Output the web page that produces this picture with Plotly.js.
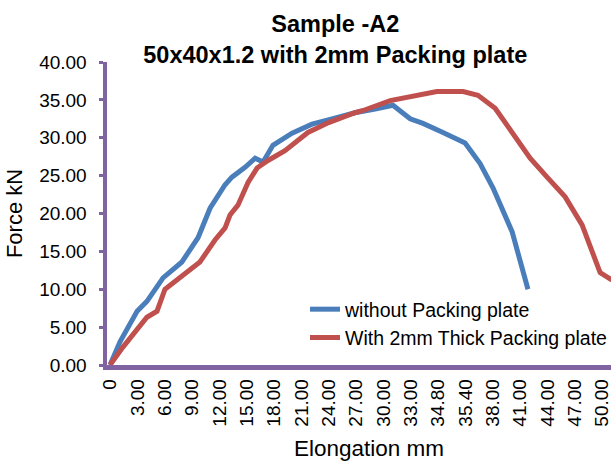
<!DOCTYPE html>
<html><head><meta charset="utf-8">
<script src="https://cdn.plot.ly/plotly-3.0.1.min.js"></script>
<style>
html,body{margin:0;padding:0;overflow:hidden;background:#fff;width:611px;height:463px}
#chart{width:660px;height:463px}
</style>
</head><body><div id="chart"></div>
<script>
// Category labels of the elongation axis (mm), one per labelled category
const tickLabels = ["0","3.00","6.00","9.00","12.00","15.00","18.00","21.00","24.00","27.00",
  "30.00","33.00","34.80","35.40","38.00","41.00","44.00","47.00","50.00"];
const tickPositions = tickLabels.map((_, i) => i);

// Series 1: without Packing plate (position along category axis, force kN)
const withoutPos   = [0, 0.37, 0.99, 1.35, 1.94, 2.63, 3.22, 3.66, 4.21, 4.46, 4.94, 5.31, 5.60, 5.96, 6.66, 7.39, 8.12, 8.96, 9.70, 10.35, 10.98, 11.45, 12.18, 12.99, 13.54, 14.01, 14.71, 15.29];
const withoutForce = [0, 3.1, 7.1, 8.4, 11.5, 13.6, 16.8, 20.7, 23.8, 24.8, 26.1, 27.3, 26.8, 29.0, 30.6, 31.8, 32.5, 33.3, 33.8, 34.3, 32.5, 31.9, 30.7, 29.3, 26.6, 23.4, 17.6, 10.0];

// Series 2: With 2mm Thick Packing plate
const withPos   = [0, 0.48, 1.35, 1.72, 2.01, 2.67, 3.29, 3.84, 4.21, 4.39, 4.68, 5.05, 5.38, 5.78, 6.40, 7.24, 8.00, 8.96, 9.26, 10.25, 11.23, 11.96, 12.92, 13.46, 14.09, 14.75, 15.37, 15.99, 16.65, 17.27, 17.93, 18.33, 18.70];
const withForce = [0, 2.4, 6.3, 7.1, 10.0, 11.9, 13.6, 16.5, 18.1, 19.8, 21.1, 24.1, 26.0, 27.0, 28.3, 30.7, 32.0, 33.3, 33.6, 34.9, 35.6, 36.1, 36.1, 35.6, 33.9, 30.6, 27.3, 24.8, 22.2, 18.5, 12.2, 11.3, 10.8];

const seriesNames = ["without Packing plate", "With 2mm Thick Packing plate"];
const FONT = "Liberation Sans, Arial, Helvetica, sans-serif";
const AXIS = "#8064A2";

const traces = [
  {x: withoutPos, y: withoutForce, name: seriesNames[0], type: "scatter", mode: "lines",
   line: {color: "#4A7EBB", width: 5}},
  {x: withPos, y: withForce, name: seriesNames[1], type: "scatter", mode: "lines",
   line: {color: "#C0504D", width: 5}}
];

const layout = {
  width: 660, height: 463,
  margin: {l: 107, r: 29, t: 62, b: 98},
  paper_bgcolor: "#fff", plot_bgcolor: "#fff",
  font: {family: FONT, color: "#000", size: 19},
  showlegend: true,
  title: {
    text: "<b>Sample -A2</b><br><b>50x40x1.2 with 2mm Packing plate</b>",
    font: {family: FONT, size: 23.5, color: "#000"},
    x: 0.508, xref: "container", xanchor: "center",
    y: 0.93, yref: "container", yanchor: "top"
  },
  xaxis: {
    range: [-0.11, 19.06], automargin: false,
    tickmode: "array", tickvals: tickPositions, ticktext: tickLabels,
    tickangle: -90, ticks: "", showgrid: false, zeroline: false,
    showline: true, linecolor: AXIS, linewidth: 4.5,
    tickfont: {family: FONT, size: 19, color: "#000"},
    ticklabelstandoff: 2,
    title: {text: "Elongation mm", font: {family: FONT, size: 22.5, color: "#000"}, standoff: 16}
  },
  yaxis: {
    range: [0, 40], automargin: false, tickmode: "linear", tick0: 0, dtick: 5, tickformat: ".2f",
    ticks: "outside", ticklen: 4, tickwidth: 3, tickcolor: AXIS,
    showgrid: false, zeroline: false,
    showline: true, linecolor: AXIS, linewidth: 4.5,
    tickfont: {family: FONT, size: 19, color: "#000"},
    ticklabelstandoff: 8,
    title: {text: "Force kN", font: {family: FONT, size: 22, color: "#000"}, standoff: 12}
  },
  legend: {
    xref: "paper", yref: "paper",
    x: (305 - 107) / 524, y: 1 - (290 - 62) / 303, xanchor: "left", yanchor: "top",
    bgcolor: "rgba(0,0,0,0)", borderwidth: 0,
    font: {family: FONT, size: 19.5, color: "#000"},
    tracegroupgap: 0
  }
};

Plotly.newPlot("chart", traces, layout, {displayModeBar: false, staticPlot: true});
</script>
</body></html>
